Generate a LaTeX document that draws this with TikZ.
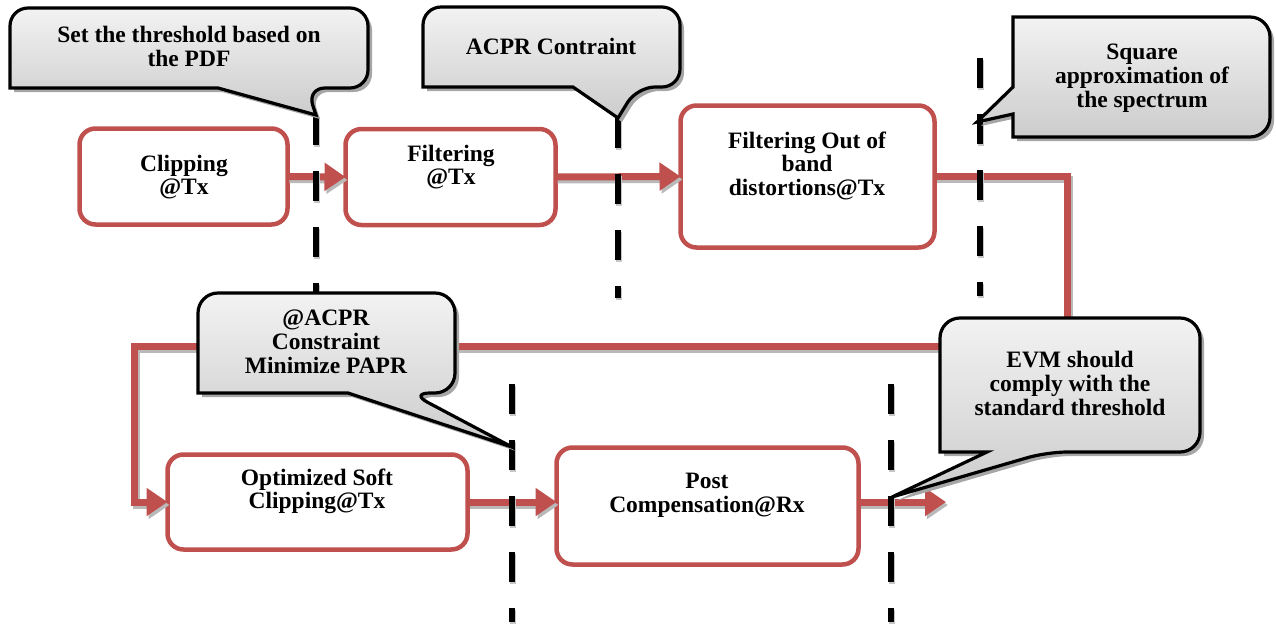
\documentclass[tikz,border=0pt]{standalone}
\usepackage{fontspec}
\setmainfont{Liberation Serif}
\usetikzlibrary{arrows.meta,shadows}
\definecolor{flowred}{RGB}{192,80,77}
\begin{document}
\begin{tikzpicture}[x=1pt,y=-1pt,
  txt/.style={font=\bfseries\fontsize{23.5}{22}\selectfont, align=center, inner sep=0pt},
  procbox/.style={draw=flowred, line width=4.5pt, rounded corners=16pt, fill=white, inner sep=0pt, outer sep=0pt},
  flow/.style={draw=flowred, line width=7pt, -{Triangle[length=21pt,width=27pt]},
    preaction={draw=gray!55, line width=7pt, -{Triangle[length=21pt,width=27pt]}, transform canvas={shift={(2pt,-3pt)}}}},
  cutline/.style={draw=black, line width=6pt, dash pattern=on 30pt off 26pt,
    preaction={draw=gray!45, line width=6pt, dash pattern=on 30pt off 26pt, transform canvas={shift={(1pt,-2pt)}}}},
  callout/.style={draw=black, line width=3.2pt, top color=gray!10, bottom color=gray!40,
    drop shadow={shadow xshift=4pt, shadow yshift=-4pt, fill=gray!70, opacity=1}}
]
\useasboundingbox (0,0) rectangle (1276,626);

% process boxes
\node[procbox, minimum width=208pt, minimum height=96pt] (clip) at (183.5,176.5) {};
\node[procbox, minimum width=210pt, minimum height=96pt] (filt) at (450.5,177) {};
\node[procbox, minimum width=254pt, minimum height=142pt] (foob) at (807.5,176.5) {};
\node[procbox, minimum width=300pt, minimum height=95pt] (opt) at (317.5,502) {};
\node[procbox, minimum width=302pt, minimum height=117pt] (post) at (707.5,506) {};

% connectors
\coordinate (r) at (1067,346);
\coordinate (l) at (134,346);
\coordinate (out) at (946,502);
\draw[flow] (clip.east) -- (filt.west);
\draw[flow] (filt.east) -- (foob.west);
\draw[flow] (foob.east) -| (r) -- (l) |- (opt.west);
\draw[flow] (opt.east) -- (opt.east -| post.west);
\draw[flow] (opt.east -| post.east) -- (out);

% box texts
\node[txt] (tclip) at (184,178) {\strut Clipping\\\strut @Tx};
\node[txt] (tfilt) at (451,168) {\strut Filtering\\\strut @Tx};
\node[txt] (tfoob) at (807,167) {\strut Filtering Out of\\\strut band\\\strut distortions@Tx};
\node[txt] (topt) at (317,492) {\strut Optimized Soft\\\strut Clipping@Tx};
\node[txt] (tpost) at (707,496) {\strut Post\\\strut Compensation@Rx};

% dashed cut lines
\coordinate (d1a) at (316,115); \coordinate (d1b) at (316,296);
\coordinate (d2a) at (618,118); \coordinate (d2b) at (618,298);
\coordinate (d3a) at (980,58);  \coordinate (d3b) at (980,296);
\coordinate (d4a) at (512,384); \coordinate (d4b) at (512,622);
\coordinate (d5a) at (891,384); \coordinate (d5b) at (891,622);
\draw[cutline] (d1a) -- (d1b);
\draw[cutline] (d2a) -- (d2b);
\draw[cutline] (d3a) -- (d3b);
\draw[cutline] (d4a) -- (d4b);
\draw[cutline] (d5a) -- (d5b);

% callouts
\path[callout] (189,8) [rounded corners=18pt] -- (368,8) -- (368,88) -- (307,88) [sharp corners] -- (d1a) -- (218,88) -- (10,88) [rounded corners=18pt] -- (10,8) -- cycle;
\path[callout] (551,7) [rounded corners=18pt] -- (680,7) -- (680,87) -- (637,87) [sharp corners] -- (d2a) -- (573,87) -- (423,87) [rounded corners=18pt] -- (423,7) -- cycle;
\path[callout] (1140,17) [rounded corners=20pt] -- (1270,17) -- (1270,137) -- (1033,137) [sharp corners] .. controls (1013,137) .. (1013,117) -- (1013,114) -- (977,122) -- (1013,87) -- (1013,17) [rounded corners=20pt] -- cycle;
\path[callout] (326,293) [rounded corners=20pt] -- (455,293) -- (455,393) -- (410,393) [sharp corners] -- (512,447) -- (348,393) -- (198,393) [rounded corners=20pt] -- (198,293) -- cycle;
\path[callout] (1070,318) [rounded corners=20pt] -- (1200,318) -- (1200,452) -- (1047,452) [sharp corners] -- (892,497) -- (987,452) -- (940,452) [rounded corners=20pt] -- (940,318) -- cycle;

% callout texts
\node[txt] (c1) at (189,50) {\strut Set the threshold based on\\\strut the PDF};
\node[txt] (c2) at (551,50) {\strut ACPR Contraint};
\node[txt] (c3) at (1142,79) {\strut Square\\\strut approximation of\\\strut the spectrum};
\node[txt] (c4) at (326,345) {\strut @ACPR\\\strut Constraint\\\strut Minimize PAPR};
\node[txt] (c5) at (1070,387) {\strut EVM should\\\strut comply with the\\\strut standard threshold};
\end{tikzpicture}
\end{document}
